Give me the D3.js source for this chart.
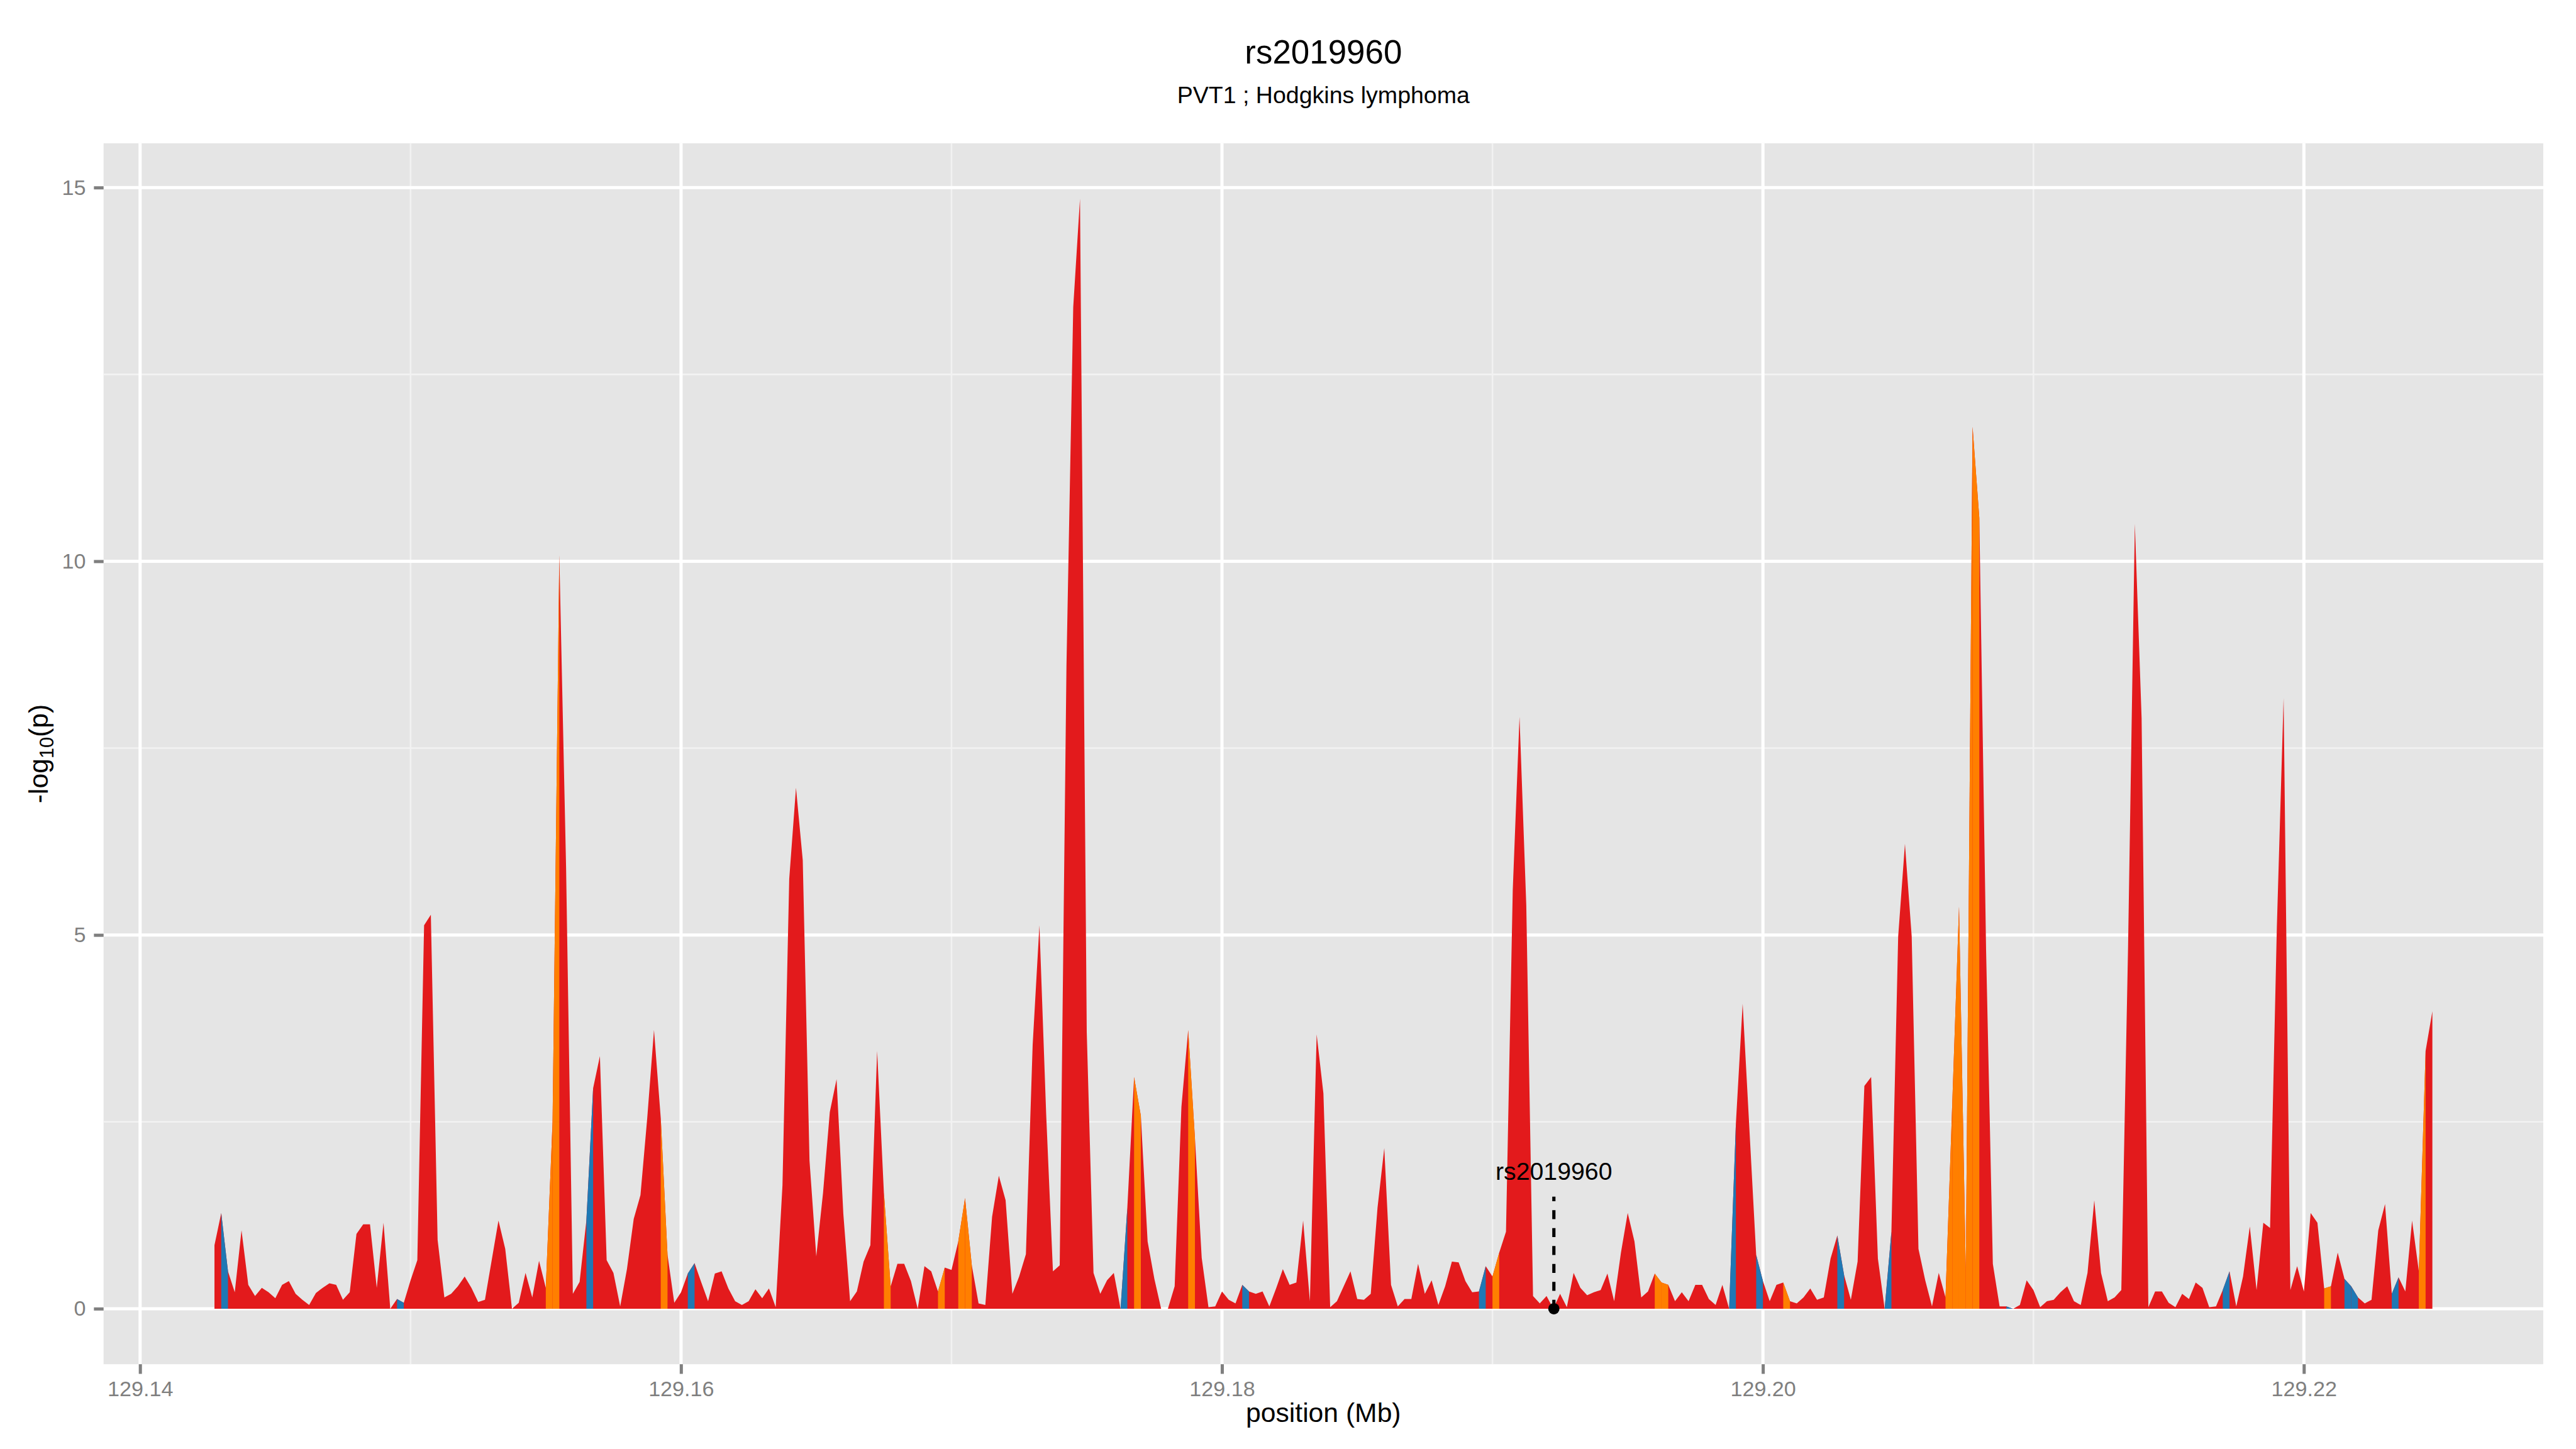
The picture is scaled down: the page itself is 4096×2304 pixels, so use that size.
<!DOCTYPE html>
<html>
<head>
<meta charset="utf-8">
<script src="https://cdn.jsdelivr.net/npm/d3@7"></script>
<style>
  body { margin: 0; background: #fff; }
  svg { display: block; }
</style>
</head>
<body>
<div id="chart"></div>
<script>
// layout is written in the reference's 4800x2700 pixels, then scaled to the window
const SCALE = 4096 / 4800;
const WIDTH = 4800;
const HEIGHT = 2700;
const MARGIN = { top: 267, right: 61, bottom: 158, left: 193 };
const FONT = "'Liberation Sans', Arial, Helvetica, sans-serif";

const COLORS = { red: '#e31a1c', orange: '#ff7f00', blue: '#1f78b4' };

const title = 'rs2019960';
const subtitle = 'PVT1 ; Hodgkins lymphoma';
const xLabel = 'position (Mb)';

// lead SNP marker
const leadSnp = { name: 'rs2019960', position: 129.19227, lineTop: 1.5, labelY: 1.84 };

// SNP positions (Mb)
const positions = [
  129.14275, 129.14300, 129.14325, 129.14350, 129.14375, 129.14400, 129.14425, 129.14450,
  129.14475, 129.14500, 129.14525, 129.14550, 129.14575, 129.14600, 129.14625, 129.14650,
  129.14675, 129.14700, 129.14725, 129.14750, 129.14775, 129.14800, 129.14825, 129.14850,
  129.14875, 129.14900, 129.14925, 129.14950, 129.14975, 129.15000, 129.15025, 129.15050,
  129.15075, 129.15100, 129.15125, 129.15150, 129.15175, 129.15200, 129.15225, 129.15250,
  129.15275, 129.15300, 129.15325, 129.15350, 129.15375, 129.15400, 129.15425, 129.15450,
  129.15475, 129.15500, 129.15525, 129.15550, 129.15575, 129.15600, 129.15625, 129.15650,
  129.15675, 129.15700, 129.15725, 129.15750, 129.15775, 129.15800, 129.15825, 129.15850,
  129.15875, 129.15900, 129.15925, 129.15950, 129.15975, 129.16000, 129.16025, 129.16050,
  129.16075, 129.16100, 129.16125, 129.16150, 129.16175, 129.16200, 129.16225, 129.16250,
  129.16275, 129.16300, 129.16325, 129.16350, 129.16375, 129.16400, 129.16425, 129.16450,
  129.16475, 129.16500, 129.16525, 129.16550, 129.16575, 129.16600, 129.16625, 129.16650,
  129.16675, 129.16700, 129.16725, 129.16750, 129.16775, 129.16800, 129.16825, 129.16850,
  129.16875, 129.16900, 129.16925, 129.16950, 129.16975, 129.17000, 129.17025, 129.17050,
  129.17075, 129.17100, 129.17125, 129.17150, 129.17175, 129.17200, 129.17225, 129.17250,
  129.17275, 129.17300, 129.17325, 129.17350, 129.17375, 129.17400, 129.17425, 129.17450,
  129.17475, 129.17500, 129.17525, 129.17550, 129.17575, 129.17600, 129.17625, 129.17650,
  129.17675, 129.17700, 129.17725, 129.17750, 129.17775, 129.17800, 129.17825, 129.17850,
  129.17875, 129.17900, 129.17925, 129.17950, 129.17975, 129.18000, 129.18025, 129.18050,
  129.18075, 129.18100, 129.18125, 129.18150, 129.18175, 129.18200, 129.18225, 129.18250,
  129.18275, 129.18300, 129.18325, 129.18350, 129.18375, 129.18400, 129.18425, 129.18450,
  129.18475, 129.18500, 129.18525, 129.18550, 129.18575, 129.18600, 129.18625, 129.18650,
  129.18675, 129.18700, 129.18725, 129.18750, 129.18775, 129.18800, 129.18825, 129.18850,
  129.18875, 129.18900, 129.18925, 129.18950, 129.18975, 129.19000, 129.19025, 129.19050,
  129.19075, 129.19100, 129.19125, 129.19150, 129.19175, 129.19200, 129.19225, 129.19250,
  129.19275, 129.19300, 129.19325, 129.19350, 129.19375, 129.19400, 129.19425, 129.19450,
  129.19475, 129.19500, 129.19525, 129.19550, 129.19575, 129.19600, 129.19625, 129.19650,
  129.19675, 129.19700, 129.19725, 129.19750, 129.19775, 129.19800, 129.19825, 129.19850,
  129.19875, 129.19900, 129.19925, 129.19950, 129.19975, 129.20000, 129.20025, 129.20050,
  129.20075, 129.20100, 129.20125, 129.20150, 129.20175, 129.20200, 129.20225, 129.20250,
  129.20275, 129.20300, 129.20325, 129.20350, 129.20375, 129.20400, 129.20425, 129.20450,
  129.20475, 129.20500, 129.20525, 129.20550, 129.20575, 129.20600, 129.20625, 129.20650,
  129.20675, 129.20700, 129.20725, 129.20750, 129.20775, 129.20800, 129.20825, 129.20850,
  129.20875, 129.20900, 129.20925, 129.20950, 129.20975, 129.21000, 129.21025, 129.21050,
  129.21075, 129.21100, 129.21125, 129.21150, 129.21175, 129.21200, 129.21225, 129.21250,
  129.21275, 129.21300, 129.21325, 129.21350, 129.21375, 129.21400, 129.21425, 129.21450,
  129.21475, 129.21500, 129.21525, 129.21550, 129.21575, 129.21600, 129.21625, 129.21650,
  129.21675, 129.21700, 129.21725, 129.21750, 129.21775, 129.21800, 129.21825, 129.21850,
  129.21875, 129.21900, 129.21925, 129.21950, 129.21975, 129.22000, 129.22025, 129.22050,
  129.22075, 129.22100, 129.22125, 129.22150, 129.22175, 129.22200, 129.22225, 129.22250,
  129.22275, 129.22300, 129.22325, 129.22350, 129.22375, 129.22400, 129.22425, 129.22450,
  129.22475
];

// -log10(p) at each position
const logP = [
  0.85, 1.28, 0.50, 0.22, 1.05, 0.32, 0.17, 0.28, 0.22, 0.14,
  0.32, 0.37, 0.20, 0.12, 0.05, 0.21, 0.28, 0.34, 0.32, 0.12,
  0.22, 1.00, 1.13, 1.13, 0.28, 1.15, 0.00, 0.13, 0.08, 0.38,
  0.65, 5.13, 5.27, 0.92, 0.15, 0.20, 0.30, 0.43, 0.28, 0.09,
  0.12, 0.65, 1.18, 0.80, 0.00, 0.08, 0.48, 0.15, 0.64, 0.28,
  2.50, 10.08, 5.90, 0.20, 0.36, 1.18, 2.95, 3.38, 0.65, 0.48,
  0.03, 0.53, 1.20, 1.52, 2.55, 3.73, 2.55, 0.72, 0.08, 0.22,
  0.47, 0.61, 0.35, 0.10, 0.47, 0.50, 0.27, 0.10, 0.05, 0.10,
  0.26, 0.14, 0.27, 0.02, 1.65, 5.75, 6.97, 6.00, 1.98, 0.70,
  1.55, 2.63, 3.07, 1.27, 0.10, 0.23, 0.63, 0.85, 3.45, 1.55,
  0.30, 0.60, 0.60, 0.37, 0.00, 0.57, 0.50, 0.23, 0.55, 0.52,
  0.90, 1.48, 0.58, 0.07, 0.05, 1.23, 1.78, 1.45, 0.20, 0.43,
  0.73, 3.53, 5.13, 2.60, 0.50, 0.58, 8.60, 13.40, 14.85, 3.70,
  0.48, 0.20, 0.38, 0.48, 0.00, 1.35, 3.10, 2.58, 0.90, 0.40,
  0.00, 0.00, 0.30, 2.70, 3.73, 2.28, 0.68, 0.02, 0.03, 0.23,
  0.12, 0.07, 0.32, 0.23, 0.20, 0.23, 0.03, 0.27, 0.53, 0.32,
  0.35, 1.18, 0.10, 3.67, 2.88, 0.02, 0.10, 0.30, 0.50, 0.13,
  0.12, 0.20, 1.35, 2.15, 0.32, 0.03, 0.13, 0.13, 0.60, 0.20,
  0.38, 0.05, 0.30, 0.63, 0.62, 0.37, 0.22, 0.23, 0.57, 0.43,
  0.75, 1.03, 5.60, 7.92, 5.40, 0.17, 0.07, 0.17, 0.00, 0.20,
  0.02, 0.48, 0.28, 0.18, 0.22, 0.25, 0.47, 0.10, 0.75, 1.28,
  0.90, 0.15, 0.23, 0.47, 0.35, 0.32, 0.10, 0.22, 0.10, 0.32,
  0.32, 0.13, 0.05, 0.32, 0.00, 2.48, 4.08, 2.40, 0.72, 0.37,
  0.10, 0.32, 0.35, 0.10, 0.07, 0.15, 0.27, 0.12, 0.15, 0.67,
  0.98, 0.45, 0.12, 0.63, 2.98, 3.10, 0.67, 0.00, 1.03, 4.98,
  6.22, 4.98, 0.80, 0.38, 0.03, 0.48, 0.15, 2.75, 5.38, 0.50,
  11.80, 10.58, 4.80, 0.60, 0.03, 0.03, 0.00, 0.05, 0.38, 0.25,
  0.02, 0.10, 0.12, 0.22, 0.30, 0.10, 0.05, 0.48, 1.45, 0.48,
  0.10, 0.15, 0.25, 4.85, 10.50, 7.90, 0.02, 0.23, 0.23, 0.08,
  0.02, 0.20, 0.13, 0.35, 0.28, 0.02, 0.03, 0.25, 0.50, 0.03,
  0.43, 1.10, 0.25, 1.15, 1.08, 5.10, 8.17, 0.25, 0.57, 0.23,
  1.28, 1.15, 0.27, 0.30, 0.75, 0.40, 0.30, 0.15, 0.07, 0.12,
  1.05, 1.40, 0.20, 0.42, 0.23, 1.18, 0.50, 3.45, 3.98
];

// segments (from point i to point i+1) that are not red
const orangeSegments = [49, 50, 66, 99, 107, 110, 111, 136, 144, 189, 213, 214, 232,
  256, 257, 258, 259, 260, 312, 326];
const blueSegments = [1, 27, 55, 70, 134, 152, 187, 224, 228, 240, 247, 265, 297,
  315, 316, 322];

const xTicks = [129.14, 129.16, 129.18, 129.20, 129.22];
const xMinorTicks = [129.15, 129.17, 129.19, 129.21];
const yTicks = [0, 5, 10, 15];
const yMinorTicks = [2.5, 7.5, 12.5];

const pw = WIDTH - MARGIN.left - MARGIN.right;
const ph = HEIGHT - MARGIN.top - MARGIN.bottom;

const points = positions.map((pos, i) => ({ pos: pos, p: logP[i] }));

// ggplot style 5% expansion on both scales
function expandedScale(values, range) {
  const [lo, hi] = d3.extent(values);
  const pad = (hi - lo) * 0.05;
  return d3.scaleLinear().domain([lo - pad, hi + pad]).range(range);
}
const x = expandedScale(positions, [0, pw]);
const y = expandedScale(logP, [ph, 0]);

const svg = d3
  .select('#chart')
  .append('svg')
  .attr('width', WIDTH * SCALE)
  .attr('height', HEIGHT * SCALE)
  .style('font-family', FONT);

const root = svg.append('g').attr('transform', 'scale(' + SCALE + ')');
root.append('rect').attr('width', WIDTH).attr('height', HEIGHT).attr('fill', '#fff');

const g = root
  .append('g')
  .attr('transform', 'translate(' + MARGIN.left + ',' + MARGIN.top + ')');

// panel background and grid
g.append('rect').attr('width', pw).attr('height', ph).attr('fill', '#e5e5e5');

const grid = g.append('g').attr('class', 'grid');
grid.selectAll('line.xminor')
  .data(xMinorTicks)
  .join('line')
  .attr('x1', d => x(d)).attr('x2', d => x(d))
  .attr('y1', 0).attr('y2', ph)
  .attr('stroke', '#f2f2f2').attr('stroke-width', 3);
grid.selectAll('line.yminor')
  .data(yMinorTicks)
  .join('line')
  .attr('y1', d => y(d)).attr('y2', d => y(d))
  .attr('x1', 0).attr('x2', pw)
  .attr('stroke', '#f2f2f2').attr('stroke-width', 3);
grid.selectAll('line.xmajor')
  .data(xTicks)
  .join('line')
  .attr('x1', d => x(d)).attr('x2', d => x(d))
  .attr('y1', 0).attr('y2', ph)
  .attr('stroke', '#fff').attr('stroke-width', 5.9);
grid.selectAll('line.ymajor')
  .data(yTicks)
  .join('line')
  .attr('y1', d => y(d)).attr('y2', d => y(d))
  .attr('x1', 0).attr('x2', pw)
  .attr('stroke', '#fff').attr('stroke-width', 5.9);

// the association profile: red underneath, coloured segments on top
const area = d3.area()
  .x(d => x(d.pos))
  .y0(y(0))
  .y1(d => y(d.p));

g.append('path').datum(points).attr('d', area).attr('fill', COLORS.red);

const segments = []
  .concat(orangeSegments.map(i => ({ i: i, color: COLORS.orange })))
  .concat(blueSegments.map(i => ({ i: i, color: COLORS.blue })));

g.selectAll('path.segment')
  .data(segments)
  .join('path')
  .attr('class', 'segment')
  .attr('d', d => area([points[d.i], points[d.i + 1]]))
  .attr('fill', d => d.color);

// lead SNP: dashed stem, dot and label
g.append('line')
  .attr('x1', x(leadSnp.position)).attr('x2', x(leadSnp.position))
  .attr('y1', y(0)).attr('y2', y(leadSnp.lineTop))
  .attr('stroke', '#000').attr('stroke-width', 6)
  .attr('stroke-dasharray', '16.7,16.7');
g.append('circle')
  .attr('cx', x(leadSnp.position)).attr('cy', y(0))
  .attr('r', 10.5).attr('fill', '#000');
g.append('text')
  .attr('x', x(leadSnp.position)).attr('y', y(leadSnp.labelY))
  .attr('dy', '0.35em')
  .attr('text-anchor', 'middle')
  .attr('font-size', 46)
  .attr('fill', '#000')
  .text(leadSnp.name);

// axes
const xAxis = g.append('g')
  .attr('class', 'x axis')
  .attr('transform', 'translate(0,' + ph + ')')
  .call(d3.axisBottom(x).tickValues(xTicks).tickFormat(d3.format('.2f'))
    .tickSize(18).tickPadding(13));
const yAxis = g.append('g')
  .attr('class', 'y axis')
  .call(d3.axisLeft(y).tickValues(yTicks).tickFormat(d3.format('d'))
    .tickSize(18).tickPadding(15));

[xAxis, yAxis].forEach(a => {
  a.select('.domain').remove();
  a.attr('font-family', FONT).attr('font-size', 40);
  a.selectAll('.tick line').attr('stroke', '#7f7f7f').attr('stroke-width', 5.9);
  a.selectAll('.tick text').attr('fill', '#7f7f7f');
});

// titles
const cx = MARGIN.left + pw / 2;
root.append('text')
  .attr('x', cx).attr('y', 118)
  .attr('text-anchor', 'middle')
  .attr('font-size', 62)
  .text(title);
root.append('text')
  .attr('x', cx).attr('y', 192)
  .attr('text-anchor', 'middle')
  .attr('font-size', 44)
  .text(subtitle);
root.append('text')
  .attr('x', cx).attr('y', 2650)
  .attr('text-anchor', 'middle')
  .attr('font-size', 50)
  .text(xLabel);

const yTitle = root.append('text')
  .attr('transform', 'translate(72,' + (MARGIN.top + ph / 2) + ') rotate(-90)')
  .attr('text-anchor', 'middle')
  .attr('dy', '0.35em')
  .attr('font-size', 50);
yTitle.append('tspan').text('-log');
yTitle.append('tspan').attr('font-size', 36).attr('dy', 10).text('10');
yTitle.append('tspan').attr('dy', -10).text('(p)');
</script>
</body>
</html>
